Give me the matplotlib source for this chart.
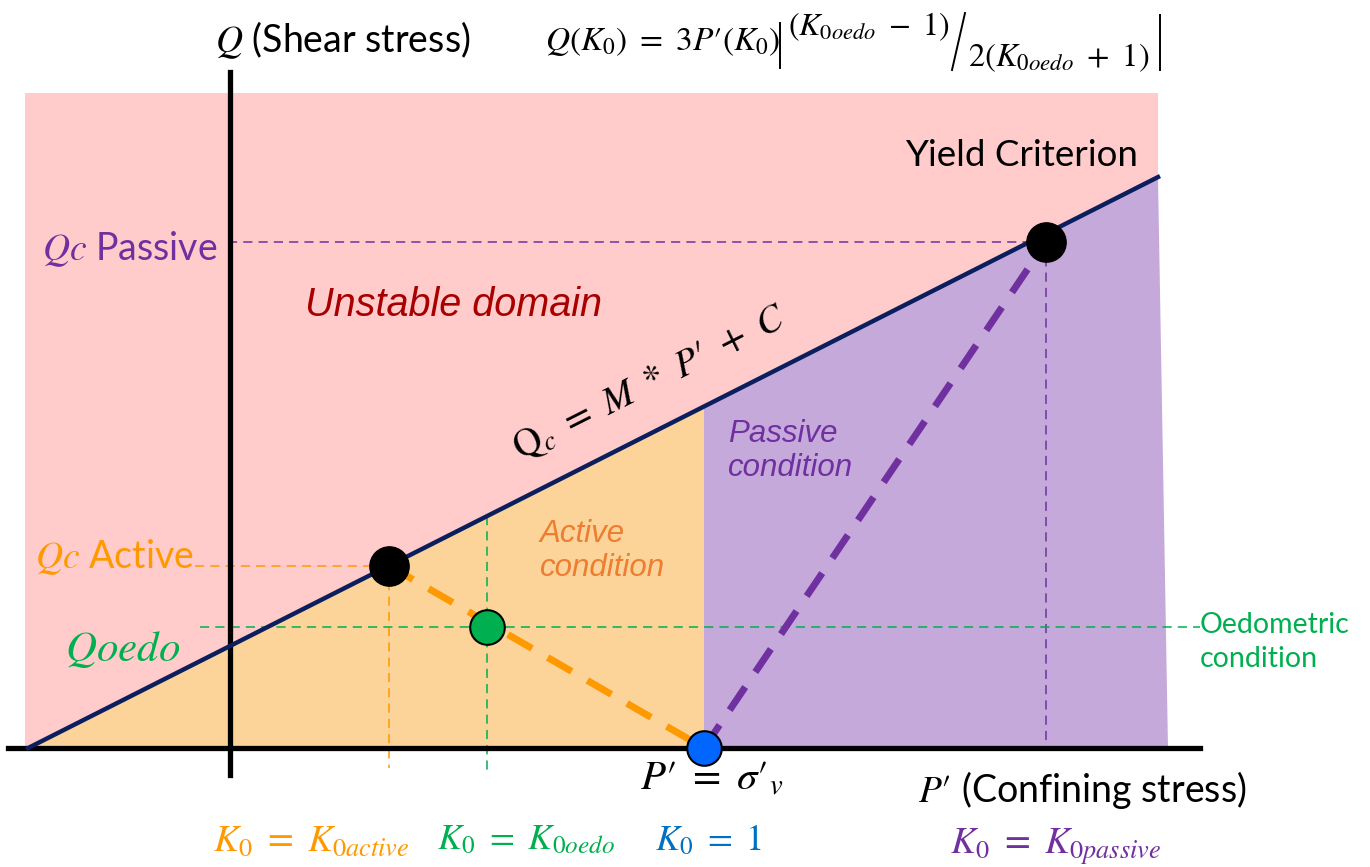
import numpy as np
import matplotlib.pyplot as plt

plt.rcParams['mathtext.fontset'] = 'stix'
plt.rcParams['font.family'] = ['Lato', 'DejaVu Sans']

# yield criterion Qc = M * P' + C  (units: 1 unit = 100 px, origin at Q axis / P axis)
M = 0.5053
C = 1.02
P_line = [-2.02, 9.28]

# key states
P_active, Q_active = 1.59, M * 1.59 + C
P_oedo, Q_oedo = 2.57, 1.21
P_v = 4.74
P_passive, Q_passive = 8.16, 5.06

# domains
pink_x = [-2.05, 9.28, 9.28, -2.05]
pink_y = [0, 0, 6.55, 6.55]
P_right_bottom = 9.38

# colours
pink = "#FFCBCB"
orange_fill = "#FCD49A"
purple_fill = "#C4A9DA"
navy = "#0B1F5E"
orange = "#FF9900"
orange2 = "#ED7D31"
green = "#00B050"
blue = "#0070C0"
purple = "#7030A0"
dark_red = "#A80000"

fig = plt.figure(figsize=(13.7, 8.67), dpi=100)
ax = fig.add_axes([0, 0, 1, 1])
ax.set_xlim(-2.30, 11.40)
ax.set_ylim(-1.19, 7.48)
ax.axis("off")

# ---- fills
ax.fill(pink_x, pink_y, color=pink, lw=0, zorder=0)
yv = M * P_v + C
ax.fill([P_line[0], P_v, P_v], [0, 0, yv], color=orange_fill, lw=0, zorder=1)
ytop = M * P_line[1] + C
ax.fill([P_v, P_right_bottom, P_line[1], P_v], [0, 0, ytop, yv], color=purple_fill, lw=0, zorder=1)

# ---- axes
ax.plot([0, 0], [-0.27, 6.76], color="black", lw=3.8, zorder=5)
ax.plot([-2.22, 9.70], [0, 0], color="black", lw=3.8, zorder=5)

# ---- yield line
ax.plot(P_line, [M * p + C for p in P_line], color=navy, lw=3.2, zorder=6)

# ---- thin dashed guides
thin = dict(lw=1.1, dashes=(6, 4), zorder=4)
ax.plot([-0.02, P_passive], [Q_passive, Q_passive], color=purple, **thin)
ax.plot([P_passive, P_passive], [Q_passive, 0], color=purple, **thin)
ax.plot([-0.35, P_active], [Q_active, Q_active], color=orange, **thin)
ax.plot([P_active, P_active], [Q_active, -0.20], color=orange, **thin)
ax.plot([-0.30, 9.70], [Q_oedo, Q_oedo], color=green, **thin)
ax.plot([P_oedo, P_oedo], [M * P_oedo + C, -0.24], color=green, **thin)

# ---- thick dashed stress paths
ax.plot([P_active, P_v], [Q_active, 0], color=orange, lw=5, dashes=(4, 2.6), zorder=7)
ax.plot([P_v, P_passive], [0, Q_passive], color=purple, lw=5, dashes=(4, 2.6), zorder=7)

# ---- points
ax.scatter([P_active, P_passive], [Q_active, Q_passive], s=800, color="black", zorder=9)
ax.scatter([P_oedo], [Q_oedo], s=620, color=green, edgecolor="black", lw=1.5, zorder=9)
ax.scatter([P_v], [0], s=620, color="#0066FF", edgecolor="black", lw=1.5, zorder=9)

# ---- formula at top
ax.text(3.15, 7.06, r"$Q(K_0)\ =\ 3P′(K_0)$", fontsize=24, va="center", ha="left")
ax.plot([5.50, 5.50], [6.80, 7.25], color="black", lw=1.4)
ax.text(5.58, 7.21, r"$(K_{0oedo}\ -\ 1)$", fontsize=23, va="center", ha="left")
ax.plot([7.22, 7.35], [6.78, 7.35], color="black", lw=1.4)
ax.text(7.38, 6.90, r"$2(K_{0oedo}\ +\ 1)$", fontsize=23.5, va="center", ha="left")
ax.plot([9.30, 9.30], [6.78, 7.33], color="black", lw=1.4)

# ---- texts
ax.text(-0.15, 7.08, r"$Q$ (Shear stress)", fontsize=27, va="center", ha="left")
ax.text(6.75, 5.92, "Yield Criterion", fontsize=26.5, va="center", ha="left")
ax.text(-1.88, 4.99, r"$Qc$ Passive", fontsize=27, color=purple, va="center", ha="left")
ax.text(0.75, 4.43, "Unstable domain", fontsize=28.5, color=dark_red, style="italic",
        family="Liberation Sans", va="center", ha="left")
ax.text(4.2, 3.65, r"$\mathrm{Q}_c\ =\ M\ *\ P′\ +\ C$", fontsize=28, rotation=26.8,
        rotation_mode="anchor", ha="center", va="center")
ax.text(4.98, 2.97, "Passive\ncondition", fontsize=22.5, color=purple, style="italic",
        family="Liberation Sans", va="center", ha="left", linespacing=1.15)
ax.text(3.1, 1.97, "Active\ncondition", fontsize=22.5, color=orange2, style="italic",
        family="Liberation Sans", va="center", ha="left", linespacing=1.15)
ax.text(-1.95, 1.91, r"$Qc$ Active", fontsize=27, color=orange, va="center", ha="left")
ax.text(-1.65, 0.98, r"$Qoedo$", fontsize=31, color=green, va="center", ha="left")
ax.text(9.70, 1.06, "Oedometric\ncondition", fontsize=20.5, color=green, va="center", ha="left",
        linespacing=1.4)
ax.text(4.10, -0.30, r"$P′\ =\ \sigma′_v$", fontsize=29.5, va="center", ha="left")
ax.text(6.88, -0.42, r"$P′$ (Confining stress)", fontsize=27, va="center", ha="left")
ax.text(-0.17, -0.92, r"$K_0\ =\ K_{0active}$", fontsize=27, color=orange, va="center", ha="left")
ax.text(2.07, -0.92, r"$K_0\ =\ K_{0oedo}$", fontsize=26, color=green, va="center", ha="left")
ax.text(4.25, -0.92, r"$K_0\ =\ 1$", fontsize=26, color=blue, va="center", ha="left")
ax.text(7.20, -0.99, r"$K_0\ =\ K_{0passive}$", fontsize=27, color=purple, va="center", ha="left")

fig.savefig("out.png", dpi=100)
